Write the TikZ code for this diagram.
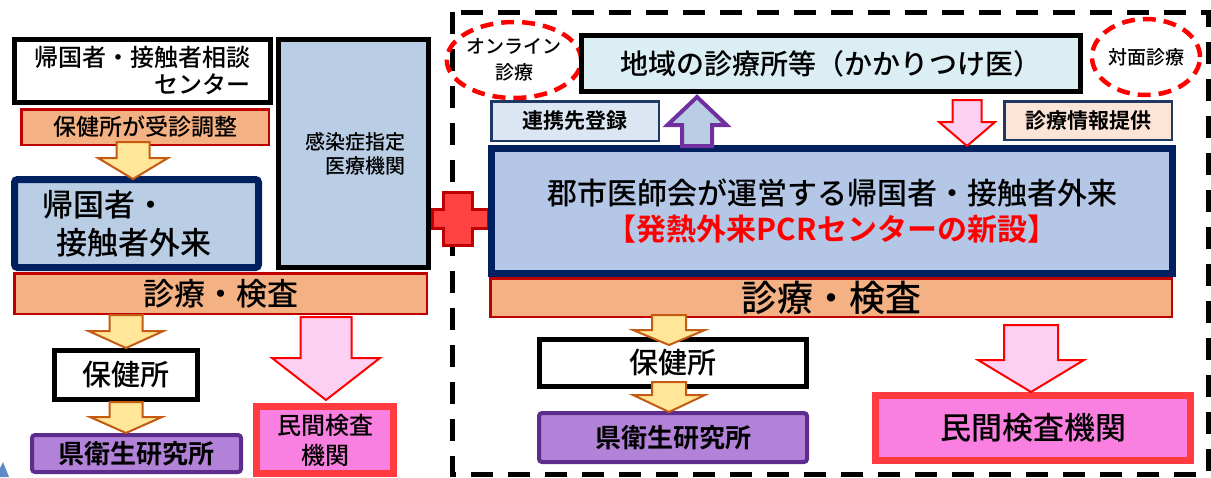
\documentclass[tikz,border=0pt]{standalone}
\usepackage{fontspec}
\setmainfont{Noto Sans CJK JP}[UprightFont={* Medium},BoldFont={* Bold}]
\usetikzlibrary{calc,shapes.geometric}
\definecolor{orfill}{RGB}{244,177,131}
\definecolor{orline}{RGB}{192,0,0}
\definecolor{bluefill}{RGB}{185,205,229}
\definecolor{bigfill}{RGB}{180,199,231}
\definecolor{navy}{RGB}{0,32,96}
\definecolor{chiikifill}{RGB}{218,238,243}
\definecolor{yelfill}{RGB}{255,230,153}
\definecolor{yelline}{RGB}{197,90,17}
\definecolor{purfill}{RGB}{178,130,216}
\definecolor{purline}{RGB}{92,45,140}
\definecolor{pinkfill}{RGB}{249,128,224}
\definecolor{pinkline}{RGB}{255,59,63}
\definecolor{lpink}{RGB}{252,208,242}
\definecolor{crossfill}{RGB}{255,67,67}
\definecolor{renkeifill}{RGB}{220,230,242}
\definecolor{teikyofill}{RGB}{252,228,214}
\definecolor{uparrow}{RGB}{112,48,160}
\definecolor{darkline}{RGB}{31,56,100}
\definecolor{bgblue}{RGB}{91,140,200}
\newcommand{\fsz}[2]{\fontsize{#1}{#2}\selectfont}
\newcommand{\blockarrow}[6]{%
\draw[#1] ($(#2)+(-#4,0)$) -- ($(#3)+(-#4,{-(#6)})$) -- ($(#3)+(-#5,{-(#6)})$) -- (#3)
 -- ($(#3)+(#5,{-(#6)})$) -- ($(#3)+(#4,{-(#6)})$) -- ($(#2)+(#4,0)$) -- cycle;}

\begin{document}
\begin{tikzpicture}[x=1pt,y=-1pt,
box/.style={draw,inner sep=0pt,align=center},
whitebox/.style={box,fill=white,line width=5pt},
orbox/.style={box,draw=orline,fill=orfill,line width=2.5pt},
navybox/.style={box,draw=navy,line width=7pt},
purbox/.style={box,draw=purline,fill=purfill,line width=4pt,rounded corners=3pt,font=\bfseries\fsz{26}{30}},
pinkbox/.style={box,draw=pinkline,fill=pinkfill,line width=7pt},
tagbox/.style={box,draw=darkline,line width=2.5pt,font=\bfseries\fsz{21}{24}},
oval/.style={ellipse,draw=red,line width=4.5pt,dash pattern=on 13pt off 8pt,inner sep=0pt,
  minimum width=108pt,minimum height=76pt,align=center,font=\fsz{19}{26}},
yarrow/.style={fill=yelfill,draw=yelline,line width=2pt},
parrow/.style={fill=lpink,draw=red,line width=2pt},
uarrow/.style={fill=bluefill,draw=uparrow,line width=4pt}]
\useasboundingbox (0,0) rectangle (1211,477);
\fill[bgblue] (0,468) -- (3,462) -- (9,477) -- (0,477) -- cycle;
\draw[line width=5pt,dash pattern=on 22pt off 15pt] (452,12) rectangle (1208,474);
\coordinate (plus) at (458,218.5);
\draw[fill=crossfill,draw=orline,line width=3pt]
 ($(plus)+(-14.5,-26.5)$) -- ($(plus)+(14.5,-26.5)$) -- ($(plus)+(14.5,-9.5)$) -- ($(plus)+(30,-9.5)$)
 -- ($(plus)+(30,9.5)$) -- ($(plus)+(14.5,9.5)$) -- ($(plus)+(14.5,26.5)$) -- ($(plus)+(-14.5,26.5)$)
 -- ($(plus)+(-14.5,9.5)$) -- ($(plus)+(-26,9.5)$) -- ($(plus)+(-26,-9.5)$) -- ($(plus)+(-14.5,-9.5)$) -- cycle;

\node[whitebox,minimum width=256pt,minimum height=63pt,text width=216pt,align=right,font=\fsz{24}{27}] (soudan) at (142.5,71) {帰国者・接触者相談\\センター};
\node[orbox,minimum width=247.5pt,minimum height=35.5pt,font=\fsz{23}{26}] (chosei) at (145,127) {保健所が受診調整};
\node[box,fill=bluefill,line width=5pt,minimum width=150pt,minimum height=228pt,text width=103pt,align=right,font=\fsz{20}{24}] (kansen) at (353.5,153.5) {感染症指定\\医療機関};
\node[navybox,fill=bluefill,rounded corners=3pt,minimum width=244pt,minimum height=88pt,text width=188pt,align=left,font=\fsz{31}{38}] (gairai) at (136.5,223.5) {帰国者・\\\hspace*{14pt}接触者外来};
\node[orbox,minimum width=412.5pt,minimum height=40.5pt,font=\fsz{31}{34}] (kensaL) at (220.5,293.5) {診療・検査};
\node[whitebox,minimum width=143pt,minimum height=49pt,font=\fsz{29}{32}] (hokenL) at (126,375) {保健所};
\node[purbox,minimum width=209pt,minimum height=37pt] (eikenL) at (136.5,453.5) {県衛生研究所};
\node[pinkbox,minimum width=137pt,minimum height=67pt,font=\fsz{24}{30}] (minkanL) at (325,440) {民間検査\\機関};

\node[oval] (online) at (514,60) {オンライン\\診療};
\node[oval] (taimen) at (1146,57) {対面診療};
\node[whitebox,fill=chiikifill,minimum width=499pt,minimum height=56pt,font=\fsz{28}{32}] (chiiki) at (831,63.5) {地域の診療所等（かかりつけ医）};
\node[tagbox,fill=renkeifill,minimum width=167.5pt,minimum height=39.5pt] (renkei) at (575,121) {連携先登録};
\node[tagbox,fill=teikyofill,minimum width=167.5pt,minimum height=38.5pt] (teikyo) at (1088,120.5) {診療情報提供};
\node[orbox,minimum width=681.5pt,minimum height=38.5pt,font=\fsz{36}{40}] (kensaR) at (831,297.5) {診療・検査};
\node[navybox,fill=bigfill,minimum width=681pt,minimum height=125pt,font=\fsz{30}{36}] (bigR) at (832,211) {郡市医師会が運営する帰国者・接触者外来\\\textcolor{red}{\bfseries 【発熱外来PCRセンターの新設】}};
\node[whitebox,minimum width=267pt,minimum height=47pt,font=\fsz{29}{32}] (hokenR) at (673,363) {保健所};
\node[purbox,minimum width=268pt,minimum height=49pt] (eikenR) at (673,437.5) {県衛生研究所};
\node[pinkbox,minimum width=315pt,minimum height=65pt,font=\fsz{31}{34}] (minkanR) at (1033,428) {民間検査機関};

\coordinate (a1s) at ([shift={(-12,-4)}]chosei.south);
\coordinate (a1t) at ([shift={(-3.5,3)}]gairai.north);
\coordinate (a2s) at ([shift={(-94.5,0)}]kensaL.south);
\coordinate (a2t) at (hokenL.north);
\coordinate (a3s) at (hokenL.south);
\coordinate (a3t) at ([shift={(-10.5,0)}]eikenL.north);
\coordinate (a4s) at ([shift={(105.5,2)}]kensaL.south);
\coordinate (a4t) at ([shift={(1,-3)}]minkanL.north);
\coordinate (b1s) at ([shift={(-135,1)}]bigR.north);
\coordinate (b1t) at ([shift={(-134,3)}]chiiki.south);
\coordinate (b2s) at ([shift={(136,6)}]chiiki.south);
\coordinate (b2t) at ([shift={(135,1)}]bigR.north);
\coordinate (b3s) at ([shift={(-162,-3)}]kensaR.south);
\coordinate (b3t) at ([shift={(-4,8)}]hokenR.north);
\coordinate (b4s) at ([shift={(-4,-7)}]hokenR.south);
\coordinate (b4t) at ([shift={(-4,1)}]eikenR.north);
\coordinate (b5s) at ([shift={(200,7)}]kensaR.south);
\coordinate (b5t) at ([shift={(-2,0)}]minkanR.north);

\blockarrow{yarrow}{a1s}{a1t}{16.5}{35}{21}
\blockarrow{yarrow}{a2s}{a2t}{16.5}{37.5}{17}
\blockarrow{yarrow}{a3s}{a3t}{16.5}{36}{16}
\blockarrow{parrow}{a4s}{a4t}{25.5}{54}{42}
\blockarrow{uarrow}{b1s}{b1t}{15}{29.5}{-28}
\blockarrow{parrow}{b2s}{b2t}{14.5}{28}{24}
\blockarrow{yarrow}{b3s}{b3t}{17}{36}{15}
\blockarrow{yarrow}{b4s}{b4t}{17}{36}{17}
\blockarrow{parrow}{b5s}{b5t}{27}{53}{32}
\end{tikzpicture}
\end{document}
